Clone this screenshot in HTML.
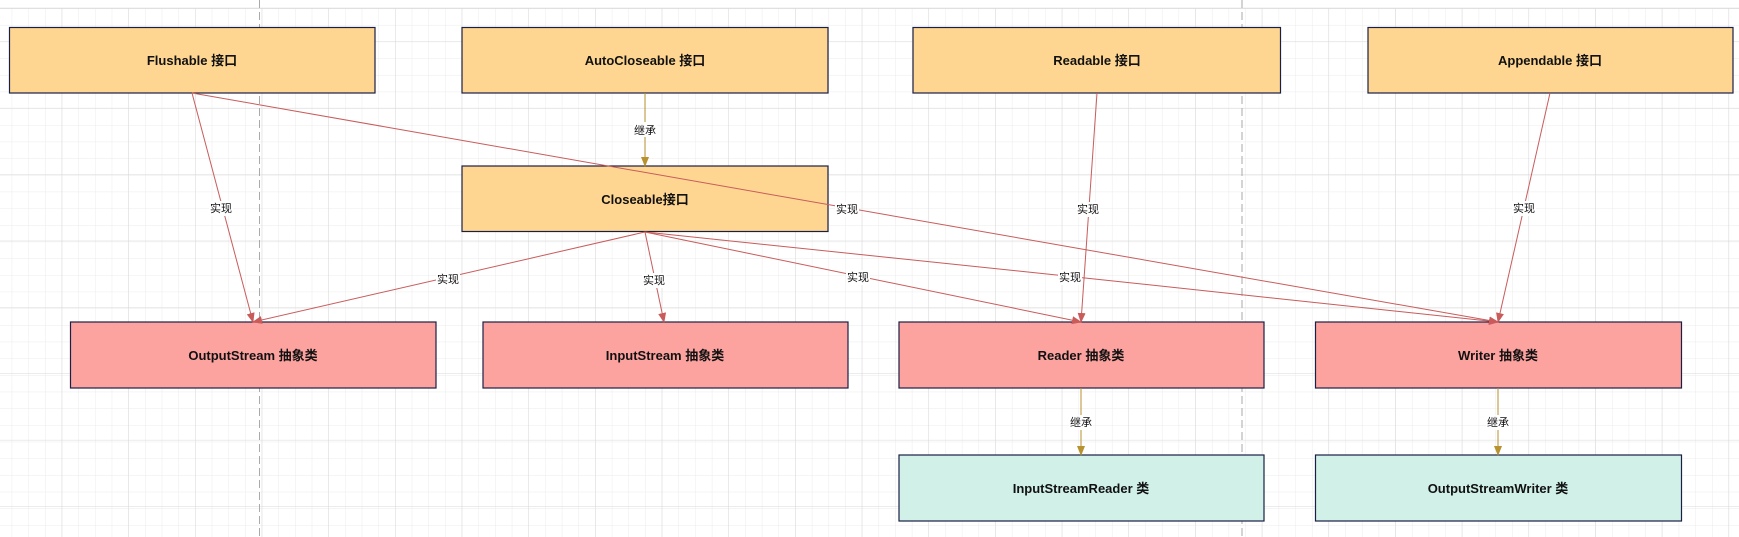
<!DOCTYPE html>
<html><head><meta charset="utf-8"><style>
html,body{margin:0;padding:0;background:#fff;}
svg{display:block;}
text{font-family:"Liberation Sans","Noto Sans CJK SC",sans-serif;}
.n{font-size:13px;font-weight:bold;fill:#111;text-anchor:middle;}
.l{font-size:11px;fill:#111;text-anchor:middle;}
</style></head><body>
<svg width="1739" height="537" xmlns="http://www.w3.org/2000/svg">
<defs>
<pattern id="mn" x="11.7" y="8.3" width="16.67" height="16.67" patternUnits="userSpaceOnUse">
<path d="M0 0H16.67M0 0V16.67" stroke="#ebebeb" stroke-width="1" fill="none"/>
</pattern>
<pattern id="mj" x="61.7" y="41.5" width="66.67" height="66.4" patternUnits="userSpaceOnUse">
<path d="M0 0H66.67M0 0V66.4" stroke="#d9d9d9" stroke-width="1" fill="none"/>
</pattern>
<marker id="ar" markerWidth="10" markerHeight="10" refX="9" refY="5" orient="auto" markerUnits="userSpaceOnUse"><path d="M0,1 L10,5 L0,9 Z" fill="#c95b5b"/></marker>
<marker id="ag" markerWidth="10" markerHeight="10" refX="9" refY="5" orient="auto" markerUnits="userSpaceOnUse"><path d="M0,1 L10,5 L0,9 Z" fill="#b8922e"/></marker>
</defs>
<rect x="0" y="8" width="1739" height="529" fill="url(#mn)"/>
<rect x="0" y="8" width="1739" height="529" fill="url(#mj)"/>
<line x1="0" y1="8.3" x2="1739" y2="8.3" stroke="#d9d9d9"/>
<line x1="259.5" y1="0" x2="259.5" y2="537" stroke="#aaa" stroke-dasharray="8,4"/>
<line x1="1242" y1="0" x2="1242" y2="537" stroke="#aaa" stroke-dasharray="8,4"/>

<g stroke="#1a1f45" stroke-width="1.2">
<rect x="9.5" y="27.5" width="365.5" height="65.5" fill="#fed691"/>
<rect x="462" y="27.5" width="366" height="65.5" fill="#fed691"/>
<rect x="913" y="27.5" width="367.5" height="65.5" fill="#fed691"/>
<rect x="1368" y="27.5" width="365" height="65.5" fill="#fed691"/>
<rect x="462" y="166" width="366" height="65.5" fill="#fed691"/>
<rect x="70.5" y="322" width="365.5" height="66" fill="#fca3a0"/>
<rect x="483" y="322" width="365" height="66" fill="#fca3a0"/>
<rect x="899" y="322" width="365" height="66" fill="#fca3a0"/>
<rect x="1315.5" y="322" width="366" height="66" fill="#fca3a0"/>
<rect x="899" y="455" width="365" height="66" fill="#d0f0e8"/>
<rect x="1315.5" y="455" width="366" height="66" fill="#d0f0e8"/>
</g>

<g stroke="#c95b5b" stroke-width="1" fill="none">
<line x1="192" y1="93" x2="253" y2="322" marker-end="url(#ar)"/>
<line x1="192" y1="93" x2="1498" y2="322" marker-end="url(#ar)"/>
<line x1="645" y1="232" x2="253" y2="322" marker-end="url(#ar)"/>
<line x1="645" y1="232" x2="664" y2="322" marker-end="url(#ar)"/>
<line x1="645" y1="232" x2="1081" y2="322" marker-end="url(#ar)"/>
<polyline points="645,232 1085,278 1498,322" marker-end="url(#ar)"/>
<line x1="1097" y1="93" x2="1081" y2="322" marker-end="url(#ar)"/>
<line x1="1550" y1="93" x2="1498" y2="322" marker-end="url(#ar)"/>
</g>
<g stroke="#b8922e" stroke-width="1">
<line x1="645" y1="93" x2="645" y2="166" marker-end="url(#ag)"/>
<line x1="1081" y1="388" x2="1081" y2="455" marker-end="url(#ag)"/>
<line x1="1498" y1="388" x2="1498" y2="455" marker-end="url(#ag)"/>
</g>

<text class="n" x="192" y="65">Flushable 接口</text>
<text class="n" x="645" y="65">AutoCloseable 接口</text>
<text class="n" x="1097" y="65">Readable 接口</text>
<text class="n" x="1550" y="65">Appendable 接口</text>
<text class="n" x="645" y="204">Closeable接口</text>
<text class="n" x="253" y="360">OutputStream 抽象类</text>
<text class="n" x="665" y="360">InputStream 抽象类</text>
<text class="n" x="1081" y="360">Reader 抽象类</text>
<text class="n" x="1498" y="360">Writer 抽象类</text>
<text class="n" x="1081" y="493">InputStreamReader 类</text>
<text class="n" x="1498" y="493">OutputStreamWriter 类</text>

<g>
<rect x="633" y="122" width="24" height="15" fill="#fff"/><text class="l" x="645" y="134">继承</text>
<rect x="209" y="201" width="24" height="15" fill="#fff"/><text class="l" x="221" y="212">实现</text>
<rect x="835" y="202" width="24" height="15" fill="#fff"/><text class="l" x="847" y="213">实现</text>
<rect x="436" y="272" width="24" height="15" fill="#fff"/><text class="l" x="448" y="283">实现</text>
<rect x="642" y="273" width="24" height="15" fill="#fff"/><text class="l" x="654" y="284">实现</text>
<rect x="846" y="270" width="24" height="15" fill="#fff"/><text class="l" x="858" y="281">实现</text>
<rect x="1058" y="270" width="24" height="15" fill="#fff"/><text class="l" x="1070" y="281">实现</text>
<rect x="1076" y="202" width="24" height="15" fill="#fff"/><text class="l" x="1088" y="213">实现</text>
<rect x="1512" y="201" width="24" height="15" fill="#fff"/><text class="l" x="1524" y="212">实现</text>
<rect x="1069" y="415" width="24" height="15" fill="#fff"/><text class="l" x="1081" y="426">继承</text>
<rect x="1486" y="415" width="24" height="15" fill="#fff"/><text class="l" x="1498" y="426">继承</text>
</g>
</svg>
</body></html>
